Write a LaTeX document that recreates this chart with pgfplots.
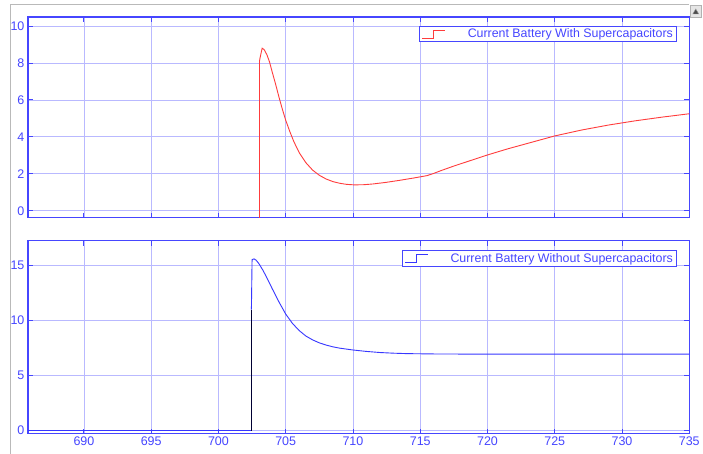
\documentclass[border=0pt]{standalone}
\usepackage{fontspec}
\setmainfont{Liberation Sans}
\usepackage{pgfplots}
\pgfplotsset{compat=1.18}
\definecolor{axblue}{RGB}{70,70,255}
\definecolor{gridblue}{RGB}{185,185,255}
\definecolor{curvered}{RGB}{255,60,60}
\definecolor{curveblue}{RGB}{55,55,255}
\pgfplotsset{
  scopestyle/.style={
    scale only axis,
    anchor=south west,
    width=662pt,
    xmin=685.84, xmax=735,
    xtick={690,695,...,735},
    axis line style={axblue, line width=1.2pt},
    tick style={axblue, line width=0.9pt},
    major tick length=5pt,
    grid=major,
    major grid style={gridblue, line width=0.8pt},
    tick label style={text=axblue, font=\fontsize{12.5}{13}\selectfont},
    /pgf/number format/assume math mode=true,
    legend cell align=left,
    legend image code/.code={\draw[##1,line width=0.9pt] (0pt,-4pt) -- (11pt,-4pt) -- (11pt,4pt) -- (23pt,4pt);},
    legend style={draw=axblue, line width=0.9pt, text=axblue, font=\fontsize{12.4}{13}\selectfont,
      anchor=north east, inner xsep=2pt, inner ysep=0.5pt, fill=white},
  }
}
\begin{document}
\begin{tikzpicture}
\fill[white] (0pt,0pt) rectangle (703pt,454pt);
\draw[gray!55, line width=0.8pt] (10pt,0pt) -- (10pt,450pt) -- (690pt,450pt);
\draw[gray!60, fill=gray!20, line width=0.6pt] (691pt,437pt) rectangle (702pt,449pt);
\draw[gray!80, fill=black!70] (693.5pt,440pt) -- (699.5pt,440pt) -- (696.5pt,445pt) -- cycle;
% upper axis
\begin{axis}[scopestyle,
  at={(28pt,236pt)}, height=201pt,
  ymin=-0.38, ymax=10.49,
  ytick={0,2,4,6,8,10},
  xticklabels={},
  legend style={at={(rel axis cs:0.982,0.955)}},
]
\addplot[curvered, line width=0.9pt] coordinates {
(703.05,-1) (703.05,8.1) (703.1,8.3) (703.25,8.8) (703.4,8.72) (703.6,8.45) (703.8,8.05)
(704.0,7.5) (704.25,6.85) (704.5,6.15) (704.75,5.5) (705.0,4.9) (705.3,4.3) (705.6,3.75)
(706.0,3.15) (706.5,2.6) (707.0,2.2) (707.5,1.92) (708.0,1.72) (708.5,1.58) (709.0,1.49)
(709.5,1.43) (710.1,1.40) (710.8,1.41) (711.5,1.45) (712.5,1.54) (713.5,1.65) (714.5,1.77)
(715.5,1.9) (716.0,2.02) (716.5,2.16) (717.5,2.42) (718.5,2.66) (720,3.02) (721.5,3.35)
(723,3.65) (725,4.05) (727,4.37) (729,4.64) (731,4.87) (733,5.07) (735,5.25)
};
\addlegendentry{\hspace{20pt}Current Battery With Supercapacitors}
\end{axis}
% lower axis
\begin{axis}[scopestyle,
  at={(28pt,20pt)}, height=193pt,
  ymin=-0.27, ymax=17.27,
  ytick={0,5,10,15},
  legend style={at={(rel axis cs:0.982,0.95)}},
]
\addplot[curveblue, line width=0.9pt] coordinates {
(702.45,11.0) (702.5,15.55) (702.65,15.62) (702.8,15.5) (703.0,15.2) (703.3,14.6)
(703.6,13.9) (704.0,12.9) (704.5,11.7) (705.0,10.6) (705.5,9.75) (706.0,9.1) (706.5,8.6)
(707.0,8.25) (707.5,7.98) (708,7.78) (708.5,7.62) (709,7.5) (710,7.33) (711,7.2)
(712,7.1) (713,7.04) (714,7.0) (716,6.97) (720,6.95) (735,6.95)
};
\addlegendentry{\hspace{20pt}Current Battery Without Supercapacitors}
\addplot[curveblue, line width=0.9pt, forget plot] coordinates {
(685.84,0) (702.45,0)
};
\addplot[black!80!blue, line width=0.9pt, forget plot] coordinates {
(702.45,0) (702.45,11.0)
};
\end{axis}
\end{tikzpicture}
\end{document}
